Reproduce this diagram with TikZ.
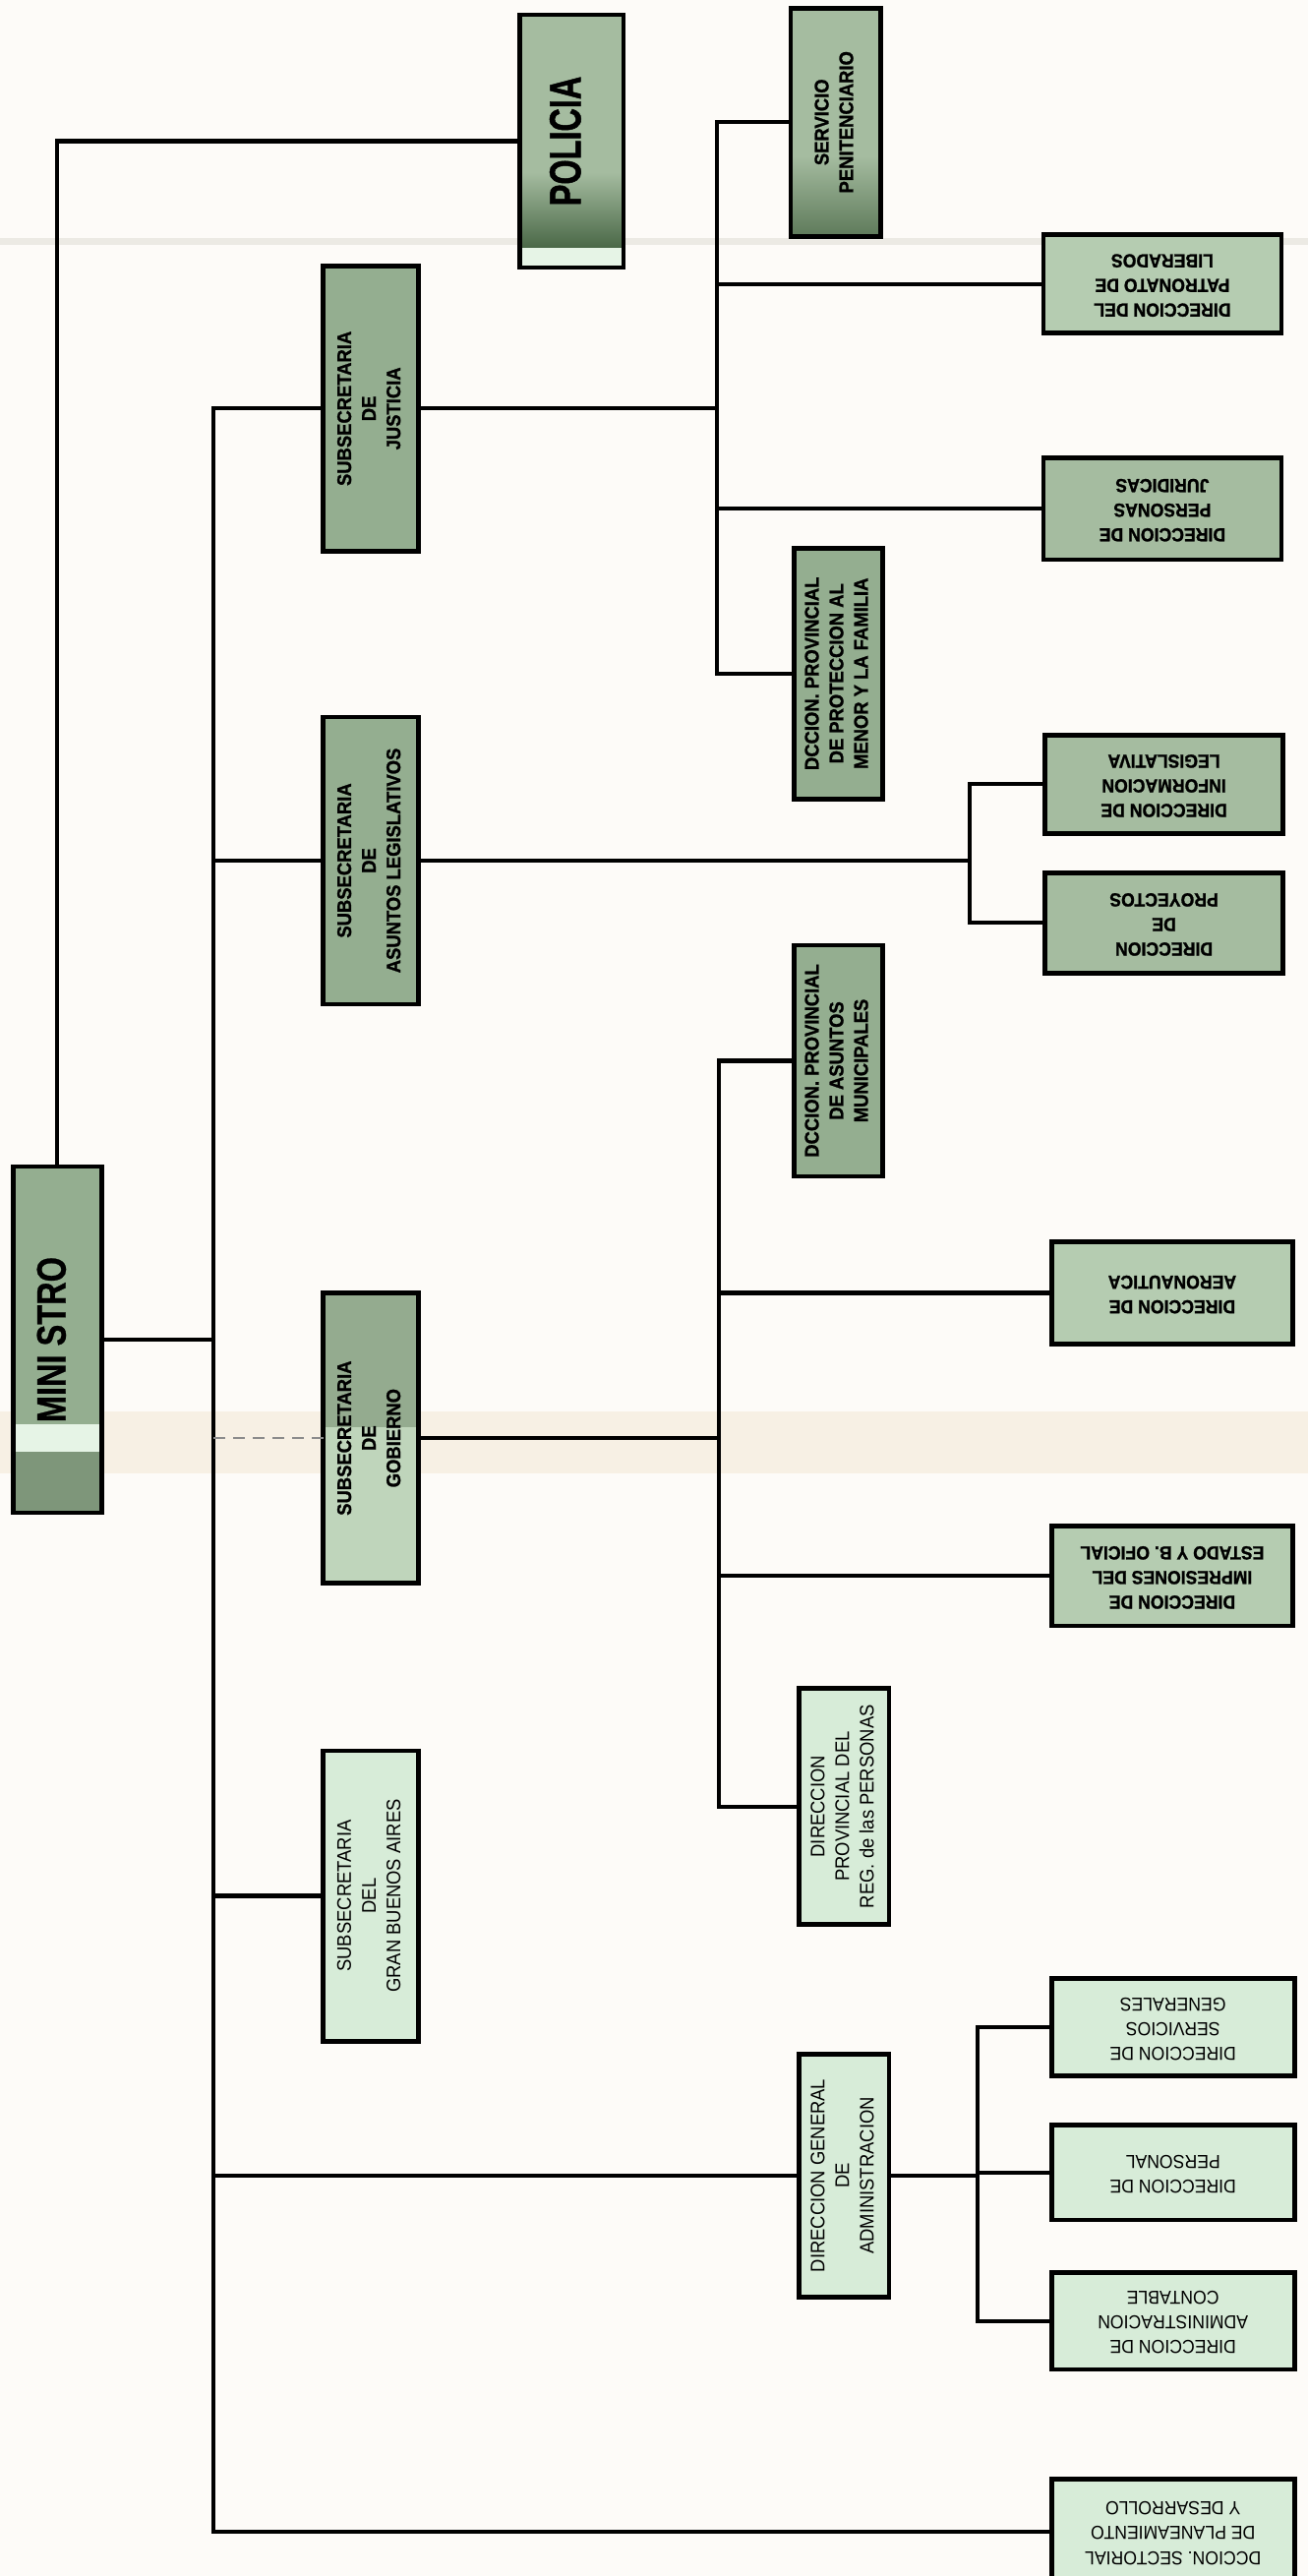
\documentclass[tikz,border=0pt]{standalone}
\usepackage{fontspec}
\setmainfont{Liberation Sans}
\newfontfamily\cf[FakeStretch=0.92,BoldFeatures={FakeBold=1.2}]{Liberation Sans}
\newfontfamily\pf[FakeStretch=0.72,BoldFeatures={FakeBold=1}]{Liberation Sans}
\newfontfamily\mf[FakeStretch=0.78,BoldFeatures={FakeBold=0.6}]{Liberation Sans}
\usetikzlibrary{calc}
\definecolor{bg}{HTML}{FDFBF8}
\definecolor{gdark}{HTML}{94AE90}
\definecolor{gmid}{HTML}{A5BCA0}
\definecolor{glight}{HTML}{B5CCB1}
\definecolor{gpale}{HTML}{D7ECD8}
\definecolor{gdeep}{HTML}{4A6847}
\definecolor{band}{HTML}{E6F4E6}
\definecolor{scan}{HTML}{F7F0E4}
\definecolor{fold}{HTML}{ECEAE4}
\definecolor{minlow}{HTML}{7E967A}
\definecolor{servlow}{HTML}{5E7A5A}
\definecolor{gobtop}{HTML}{94AB8F}
\definecolor{goblow}{HTML}{BFD5BB}
\newcommand{\vt}[2]{\rotatebox{90}{#1\begin{tabular}{@{}c@{}}#2\end{tabular}}}
\newcommand{\ut}[2]{\rotatebox{180}{#1\begin{tabular}{@{}c@{}}#2\end{tabular}}}
\newcommand{\lb}{\cf\bfseries\fontsize{12}{15}\selectfont}
\newcommand{\lr}{\cf\fontsize{12}{15}\selectfont}
\newcommand{\rb}{\cf\bfseries\fontsize{11.5}{15}\selectfont}
\newcommand{\rr}{\cf\fontsize{11.5}{15}\selectfont}
\begin{document}
\begin{tikzpicture}[x=1pt,y=-1pt,
  box/.style={draw=black,line width=2.8pt,inner sep=0pt,outer sep=0pt},
  frame/.style={draw=black,line width=2.8pt,inner sep=0pt,outer sep=0pt},
  conn/.style={line width=2.5pt,draw=black},
  faint/.style={line width=1.2pt,draw=black!45,dash pattern=on 7pt off 5pt}]
\useasboundingbox (0,0) rectangle (797,1570);
\fill[bg] (0,0) rectangle (797,1570);
% scan artefacts
\fill[fold] (0,145) rectangle (797,149);
\fill[scan] (0,860) rectangle (797,898);

% decorated fills
\fill[gmid] (317,9) rectangle (380,105);
\shade[top color=gmid,bottom color=gdeep] (317,105) rectangle (380,151);
\fill[band] (317,151) rectangle (380,163);
\fill[gdark] (8,711) rectangle (62,868);
\fill[band] (8,868) rectangle (62,885);
\fill[minlow] (8,885) rectangle (62,922);
\fill[gmid] (482,5) rectangle (537,95);
\shade[top color=gmid,bottom color=servlow] (482,95) rectangle (537,144);
\fill[gobtop] (197,788) rectangle (255,870);
\fill[goblow] (197,870) rectangle (255,965);

% nodes
\node[frame,minimum width=54pt,minimum height=211pt] (min) at (35,816.5) {\vt{\mf\bfseries\fontsize{25}{25}\selectfont}{MINI STRO}};
\node[frame,minimum width=63pt,minimum height=154pt] (pol) at (348.5,86) {\vt{\pf\bfseries\fontsize{27}{27}\selectfont}{POLICIA}};

\node[box,fill=gdark,minimum width=58pt,minimum height=174pt] (sjus) at (226,249) {\vt{\lb}{SUBSECRETARIA\\DE\\JUSTICIA}};
\node[box,fill=gdark,minimum width=58pt,minimum height=175pt] (sleg) at (226,524.5) {\vt{\lb}{SUBSECRETARIA\\DE\\ASUNTOS LEGISLATIVOS}};
\node[frame,minimum width=58pt,minimum height=177pt] (sgob) at (226,876.5) {\vt{\lb}{SUBSECRETARIA\\DE\\GOBIERNO}};
\node[box,fill=gpale,minimum width=58pt,minimum height=177pt] (sgba) at (226,1155.5) {\vt{\lr}{SUBSECRETARIA\\DEL\\GRAN BUENOS AIRES}};

\node[frame,minimum width=55pt,minimum height=139pt] (serv) at (509.5,74.5) {\vt{\lb}{SERVICIO\\PENITENCIARIO}};
\node[box,fill=gdark,minimum width=54pt,minimum height=153pt] (menor) at (511,410.5) {\vt{\lb}{DCCION. PROVINCIAL\\DE PROTECCION AL\\MENOR Y LA FAMILIA}};
\node[box,fill=gdark,minimum width=54pt,minimum height=141pt] (muni) at (511,646.5) {\vt{\lb}{DCCION. PROVINCIAL\\DE ASUNTOS\\MUNICIPALES}};
\node[box,fill=gpale,minimum width=55pt,minimum height=144pt] (reg) at (514.5,1101) {\vt{\lr}{DIRECCION\\PROVINCIAL DEL\\REG. de las PERSONAS}};
\node[box,fill=gpale,minimum width=55pt,minimum height=148pt] (dga) at (514.5,1326) {\vt{\lr}{DIRECCION GENERAL\\DE\\ADMINISTRACION}};

\node[box,fill=glight,minimum width=145pt,minimum height=60pt] (patr) at (708.5,173) {\ut{\rb}{DIRECCION DEL\\PATRONATO DE\\LIBERADOS}};
\node[box,fill=gmid,minimum width=145pt,minimum height=62pt] (pjur) at (708.5,310) {\ut{\rb}{DIRECCION DE\\PERSONAS\\JURIDICAS}};
\node[box,fill=gmid,minimum width=145pt,minimum height=60pt] (info) at (709.5,478) {\ut{\rb}{DIRECCION DE\\INFORMACION\\LEGISLATIVA}};
\node[box,fill=gmid,minimum width=145pt,minimum height=61pt] (proy) at (709.5,562.5) {\ut{\rb}{DIRECCION\\DE\\PROYECTOS}};
\node[box,fill=glight,minimum width=147pt,minimum height=62pt] (aero) at (714.5,788) {\ut{\rb}{DIRECCION DE\\AERONAUTICA}};
\node[box,fill=glight,minimum width=147pt,minimum height=61pt] (impr) at (714.5,960.5) {\ut{\rb}{DIRECCION DE\\IMPRESIONES DEL\\ESTADO Y B. OFICIAL}};
\node[box,fill=gpale,minimum width=148pt,minimum height=59pt] (sgen) at (715,1235.5) {\ut{\rr}{DIRECCION DE\\SERVICIOS\\GENERALES}};
\node[box,fill=gpale,minimum width=148pt,minimum height=58pt] (pers) at (715,1324) {\ut{\rr}{DIRECCION DE\\PERSONAL}};
\node[box,fill=gpale,minimum width=148pt,minimum height=59pt] (cont) at (715,1414.5) {\ut{\rr}{DIRECCION DE\\ADMINISTRACION\\CONTABLE}};
\node[box,fill=gpale,minimum width=148pt,minimum height=64pt] (sect) at (715,1543) {\ut{\rr}{DCCION. SECTORIAL\\DE PLANEAMIENTO\\Y DESARROLLO}};

% trunk coordinates
\coordinate (trk) at (130,0);
\coordinate (vj) at (437,0);
\coordinate (vl) at (591,0);
\coordinate (vg) at (438,0);
\coordinate (va) at (596,0);

% connectors
\draw[conn] (min.north) |- (pol.west);
\draw[conn] (min.east) -- (min.east -| trk);
\draw[conn] (sjus.west) -| (trk |- sect.west) -- (sect.west);
\draw[conn] (sleg.west) -- (sleg.west -| trk);
\draw[faint] (sgob.west) -- (sgob.west -| trk);
\draw[conn] (sgba.west) -- (sgba.west -| trk);
\draw[conn] (dga.west) -- (dga.west -| trk);

\draw[conn] (sjus.east) -- (sjus.east -| vj);
\draw[conn] (serv.west) -| (vj |- menor.west) -- (menor.west);
\draw[conn] (patr.west) -- (patr.west -| vj);
\draw[conn] (pjur.west) -- (pjur.west -| vj);

\draw[conn] (sleg.east) -- (sleg.east -| vl);
\draw[conn] (info.west) -| (vl |- proy.west) -- (proy.west);

\draw[conn] (sgob.east) -- (sgob.east -| vg);
\draw[conn] (muni.west) -| (vg |- reg.west) -- (reg.west);
\draw[conn] (aero.west) -- (aero.west -| vg);
\draw[conn] (impr.west) -- (impr.west -| vg);

\draw[conn] (dga.east) -- (dga.east -| va);
\draw[conn] (sgen.west) -| (va |- cont.west) -- (cont.west);
\draw[conn] (pers.west) -- (pers.west -| va);
\end{tikzpicture}
\end{document}
